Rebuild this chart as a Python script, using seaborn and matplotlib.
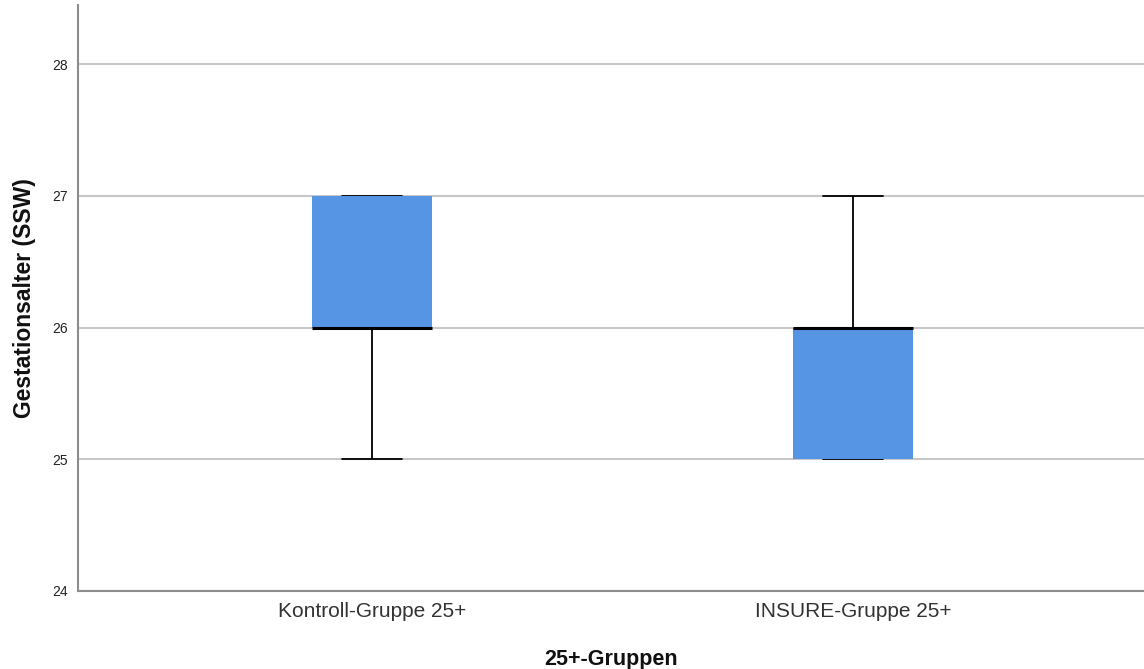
import pandas as pd
import numpy as np
import seaborn as sns
from matplotlib import pyplot as plt

groups = ["Kontroll-Gruppe 25+", "INSURE-Gruppe 25+"]
kontroll_ssw = [25, 26, 26, 27, 27]
insure_ssw = [25, 25, 26, 26, 27]
y_ticks = [24, 25, 26, 27, 28]

box_color = "#5595E3"
grid_color = "#c8c8c8"
spine_color = "#8c8c8c"

df = pd.DataFrame({
    "gruppe": [groups[0]] * len(kontroll_ssw) + [groups[1]] * len(insure_ssw),
    "ssw": kontroll_ssw + insure_ssw,
})

sns.set_style("white")
plt.rcParams["font.family"] = ["Liberation Sans", "DejaVu Sans"]

fig = plt.figure(figsize=(11.44, 6.69), dpi=100)
ax = fig.add_axes([78/1144, 78/669, 1 - 78/1144, 586/669])

sns.boxplot(data=df, x="gruppe", y="ssw", order=groups, ax=ax, width=0.25,
            color=box_color, saturation=1, showfliers=False, whis=1.5,
            boxprops=dict(linewidth=0, facecolor=box_color),
            medianprops=dict(color="black", linewidth=2.2),
            whiskerprops=dict(color="black", linewidth=1.3),
            capprops=dict(color="black", linewidth=1.3, zorder=1.5))

ax.set_xlim(-0.612, 1.605)
ax.set_ylim(24, 28.45)
ax.set_yticks(y_ticks)
ax.yaxis.grid(True, color=grid_color, linewidth=1.5)
ax.set_axisbelow(True)
for s in ["top", "right"]:
    ax.spines[s].set_visible(False)
for s in ["left", "bottom"]:
    ax.spines[s].set_color(spine_color)
    ax.spines[s].set_linewidth(1.5)
ax.tick_params(axis="y", length=0, pad=7, labelsize=10, labelcolor="#222222")
ax.tick_params(axis="x", length=0, pad=8, labelsize=15, labelcolor="#333333")
ax.set_xlabel("25+-Gruppen", fontsize=15.5, fontweight="bold", labelpad=20, color="#111111")
ax.set_ylabel("Gestationsalter (SSW)", fontsize=16.5, fontweight="bold", labelpad=12, color="#111111")

plt.savefig("out.png", dpi=100)
